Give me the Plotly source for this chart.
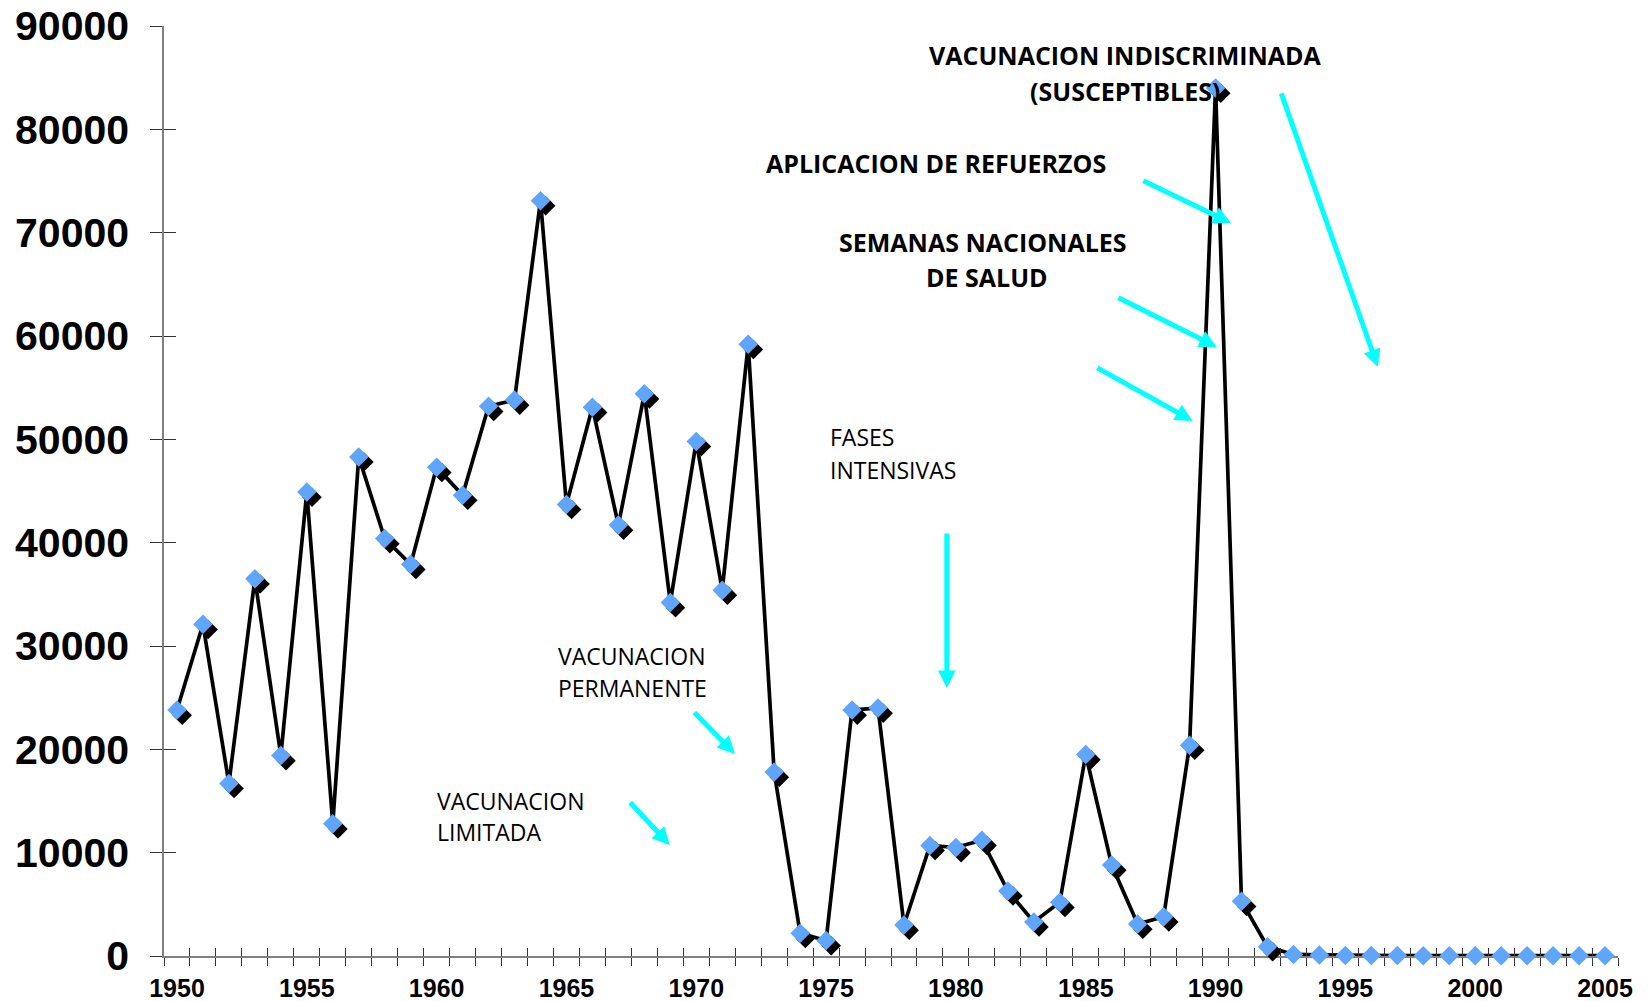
import plotly.graph_objects as go

years = list(range(1950, 2006))
cases = [23800, 32100, 16700, 36500, 19400, 44900, 12800, 48300, 40400, 37900,
         47300, 44600, 53200, 53800, 73100, 43700, 53100, 41700, 54400, 34200,
         49800, 35400, 59200, 17800, 2200, 1500, 23800, 24000, 3000, 10700,
         10500, 11200, 6300, 3300, 5200, 19500, 8800, 3100, 3800, 20400,
         84000, 5300, 900, 150, 100, 50, 40, 40, 30, 30,
         30, 30, 30, 30, 30, 30]
label_years = [1950, 1955, 1960, 1965, 1970, 1975, 1980, 1985, 1990, 1995, 2000, 2005]
y_ticks = [0, 10000, 20000, 30000, 40000, 50000, 60000, 70000, 80000, 90000]

# category boundaries (tick marks between years)
bounds = [y - 0.5 for y in years] + [years[-1] + 0.5]
xr = [years[0] - 0.5, years[-1] + 0.5]
yr = [0, 90000]

# shadow offset in axis units (about 5 px right / 5 px down)
sdx = 0.2
sdy = 500

fig = go.Figure()
fig.add_trace(go.Scatter(x=years, y=cases, mode="lines",
                         line=dict(color="black", width=3.7), cliponaxis=False,
                         hoverinfo="skip", showlegend=False))
fig.add_trace(go.Scatter(x=[y + sdx for y in years], y=[c - sdy for c in cases],
                         mode="markers", cliponaxis=False,
                         marker=dict(symbol="diamond", size=15, color="black"),
                         hoverinfo="skip", showlegend=False))
fig.add_trace(go.Scatter(x=years, y=cases, mode="markers", cliponaxis=False,
                         marker=dict(symbol="diamond", size=15, color="#5FA5FA"),
                         showlegend=False))
# invisible anchors so the overlay tick axes are drawn
fig.add_trace(go.Scatter(x=[years[0]], y=[0], xaxis="x2", yaxis="y2", mode="markers",
                         marker=dict(opacity=0), hoverinfo="skip", showlegend=False))
fig.add_trace(go.Scatter(x=[years[0]], y=[0], xaxis="x3", yaxis="y", mode="markers",
                         marker=dict(opacity=0), hoverinfo="skip", showlegend=False))

tick_col = "#333333"
line_col = "#808080"

fig.update_layout(
    width=1652, height=1001,
    margin=dict(l=164, r=34, t=26, b=45),
    plot_bgcolor="white", paper_bgcolor="white",
    xaxis=dict(range=xr, tickmode="array", tickvals=bounds, ticktext=[""] * len(bounds),
               ticks="outside", ticklen=8, tickwidth=1.2, tickcolor=tick_col,
               showline=True, linecolor=line_col, linewidth=1.5, automargin=False,
               showgrid=False, zeroline=False, layer="below traces"),
    xaxis2=dict(range=xr, overlaying="x", anchor="y2", tickmode="array", tickvals=bounds,
                ticks="inside", ticklen=8, tickwidth=1.2, tickcolor=tick_col, automargin=False,
                showticklabels=False, showline=False, showgrid=False, zeroline=False),
    xaxis3=dict(range=xr, overlaying="x", anchor="y", tickmode="array",
                tickvals=label_years, ticktext=[str(y) for y in label_years],
                ticks="", showline=False, showgrid=False, zeroline=False, automargin=False,
                tickfont=dict(family="Liberation Sans", size=25, color="black", weight="bold"),
                ticklabelstandoff=15),
    yaxis=dict(range=yr, tickmode="array", tickvals=y_ticks,
               ticktext=[str(v) for v in y_ticks],
               ticks="outside", ticklen=12, tickwidth=1.2, tickcolor=tick_col,
               showline=True, linecolor=line_col, linewidth=1.5, automargin=False,
               showgrid=False, zeroline=False, layer="below traces",
               tickfont=dict(family="Liberation Sans", size=41, color="black", weight="bold"),
               ticklabelstandoff=13),
    yaxis2=dict(range=yr, overlaying="y", anchor="x2", tickmode="array", tickvals=y_ticks,
                ticks="inside", ticklen=12, tickwidth=1.2, tickcolor=tick_col, automargin=False,
                showticklabels=False, showline=False, showgrid=False, zeroline=False),
)

bold = dict(family="Open Sans", size=25, color="black", weight="bold")
reg = dict(family="Open Sans", size=23, color="black")

texts = [
    ("VACUNACION INDISCRIMINADA", 1986.53, 87190, "center", bold),
    ("(SUSCEPTIBLES)", 1986.50, 83710, "center", bold),
    ("APLICACION DE REFUERZOS", 1979.23, 76740, "center", bold),
    ("SEMANAS NACIONALES", 1981.06, 69100, "center", bold),
    ("DE SALUD", 1981.19, 65710, "center", bold),
    ("FASES", 1975.07, 50230, "left", reg),
    ("INTENSIVAS", 1975.07, 47030, "left", reg),
    ("VACUNACION", 1964.59, 29030, "left", reg),
    ("PERMANENTE", 1964.59, 25940, "left", reg),
    ("VACUNACION", 1959.93, 15000, "left", reg),
    ("LIMITADA", 1959.93, 12000, "left", reg),
]
for t, x, y, xa, f in texts:
    fig.add_annotation(text=t, x=x, y=y, xref="x", yref="y", showarrow=False,
                       xanchor=xa, yanchor="middle", font=f)

# arrows: (tail_x, tail_y, head_x, head_y)
arrows = [
    (1967.40, 15000, 1968.98, 10740),
    (1969.87, 23710, 1971.49, 19550),
    (1979.65, 41030, 1979.65, 25940),
    (1985.39, 57000, 1989.12, 51780),
    (1986.20, 63780, 1990.05, 58940),
    (1987.16, 75100, 1990.59, 70940),
    (1992.51, 83620, 1996.25, 57000),
]
for tx, ty, hx, hy in arrows:
    fig.add_annotation(x=hx, y=hy, ax=tx, ay=ty, xref="x", yref="y", axref="x", ayref="y",
                       text="", showarrow=True, arrowhead=2, arrowsize=0.7,
                       arrowwidth=5, arrowcolor="#00FFFF")

fig.write_html("out.html", config={"displayModeBar": False},
               post_script="document.body.style.margin='0';document.body.style.overflow='hidden';")
